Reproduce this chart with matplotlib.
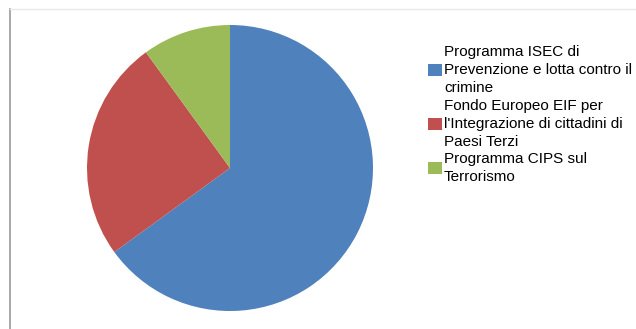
import matplotlib.pyplot as plt
from matplotlib.lines import Line2D

plt.rcParams['font.family'] = ['Liberation Sans', 'DejaVu Sans']

labels = ["Programma ISEC di\nPrevenzione e lotta contro il\ncrimine",
          "Fondo Europeo EIF per\nl'Integrazione di cittadini di\nPaesi Terzi",
          "Programma CIPS sul\nTerrorismo"]
values = [65, 25, 10]
colors = ["#4F81BD", "#C0504D", "#9BBB59"]

W, H = 636, 329
fig = plt.figure(figsize=(W / 100, H / 100), dpi=100)

# pie axes placed in pixel units: centre (230, 168), radius 143
cx, cy, r = 230, 168, 143
ax = fig.add_axes([(cx - r) / W, (H - cy - r) / H, 2 * r / W, 2 * r / H])
wedges, _ = ax.pie(values, colors=colors, startangle=90, counterclock=False,
                   radius=1, wedgeprops=dict(linewidth=0))
ax.set_xlim(-1, 1)
ax.set_ylim(-1, 1)
ax.set_aspect('equal')
ax.axis('off')

leg = fig.legend(wedges, labels, loc='upper left',
                 bbox_to_anchor=(428 / W, 1 - 45 / H),
                 frameon=False, fontsize=11, handlelength=0.92,
                 handleheight=0.85, handletextpad=0.13, labelspacing=0.22,
                 borderaxespad=0, borderpad=0)
for t in leg.get_texts():
    t.set_linespacing(1.37)

# chart area border (left and top edges)
fig.add_artist(Line2D([10 / W, 10 / W], [0, 1 - 9 / H], color='#9a9a9a', lw=1.2))
fig.add_artist(Line2D([10 / W, 1], [1 - 9 / H, 1 - 9 / H], color='#e8e8e8', lw=1))

fig.savefig('out.png', dpi=100)
